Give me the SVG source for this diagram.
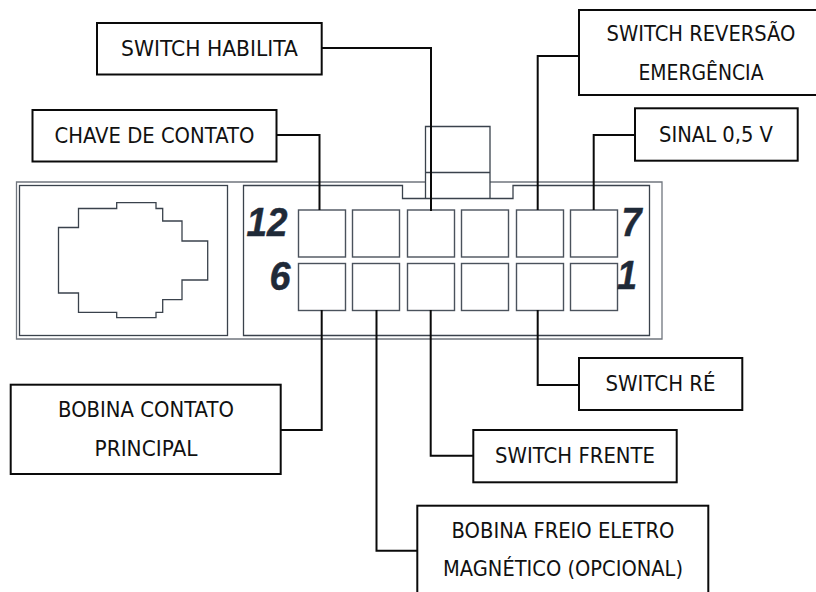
<svg xmlns="http://www.w3.org/2000/svg" width="816" height="592" viewBox="0 0 816 592">
<style>
.c{fill:#fff;stroke:#4a525c;stroke-width:1.4}
.t{fill:none;stroke:#3a424c;stroke-width:1.3}
.o{fill:none;stroke:#70767e;stroke-width:1.3}
.w{fill:none;stroke:#0a0a0a;stroke-width:2}
.b{fill:#fff;stroke:#0a0a0a;stroke-width:2}
.l{font-family:"DejaVu Sans",sans-serif;font-size:21px;fill:#111;text-anchor:middle}
.n{font-family:"Liberation Sans",Arial,sans-serif;font-size:40px;font-weight:bold;font-style:italic;fill:#1f2a38;stroke:#1f2a38;stroke-width:.5}
</style>
<rect width="816" height="592" fill="#fff"/>
<g id="connector-housing">
<path class="o" d="M425.500 182H16.500V339H662V182H490"/>
<rect class="t" x="19.500" y="185.500" width="208" height="150"/>
<path class="t" d="M243.500 185.500H402.500V198.500H513V185.500H649.500V335.500H243.500Z"/>
<path class="t" d="M425.500 198.500V126.500H490V198.500M425.500 172.500H490"/>
<path class="t" d="M58.500 227.500H78.500V208.500H116.700V202.700H156V208.500H162.700V221H182V241H207.700V280H182V299.700H162.700V312.300H156V317.700H116.700V312.300H78.500V293H58.500Z"/>
</g>
<g id="pins">
<rect class="c" x="298.500" y="210" width="47" height="47"/><rect class="c" x="352.500" y="210" width="47" height="47"/><rect class="c" x="407.500" y="210" width="47" height="47"/><rect class="c" x="461.500" y="210" width="47" height="47"/><rect class="c" x="516.500" y="210" width="47" height="47"/><rect class="c" x="570.500" y="210" width="47" height="47"/>
<rect class="c" x="298.500" y="263.500" width="47" height="47"/><rect class="c" x="352.500" y="263.500" width="47" height="47"/><rect class="c" x="407.500" y="263.500" width="47" height="47"/><rect class="c" x="461.500" y="263.500" width="47" height="47"/><rect class="c" x="516.500" y="263.500" width="47" height="47"/><rect class="c" x="570.500" y="263.500" width="47" height="47"/>
<text class="n" x="246.500" y="236" textLength="41" lengthAdjust="spacingAndGlyphs">12</text>
<text class="n" x="269.500" y="290" textLength="21" lengthAdjust="spacingAndGlyphs">6</text>
<text class="n" x="621.500" y="236" textLength="20" lengthAdjust="spacingAndGlyphs">7</text>
<text class="n" x="617" y="289" textLength="20" lengthAdjust="spacingAndGlyphs">1</text>
</g>
<g id="connectors">
<path class="w" d="M322 48H431V211"/>
<path class="w" d="M277 135H319.500V210"/>
<path class="w" d="M579 56H537.700V210"/>
<path class="w" d="M635 135H593.700V210"/>
<path class="w" d="M281 430H321.700V310"/>
<path class="w" d="M417 550.700H376.500V310"/>
<path class="w" d="M473 455.700H430.700V310"/>
<path class="w" d="M579 385H537.700V310"/>
</g>
<g id="switch-habilita"><rect class="b" x="97" y="23" width="224.700" height="51.500"/><text class="l" x="209.500" y="56" textLength="177" lengthAdjust="spacingAndGlyphs">SWITCH HABILITA</text></g>
<g id="chave-contato"><rect class="b" x="32.500" y="110" width="244" height="51.500"/><text class="l" x="154.500" y="143" textLength="200" lengthAdjust="spacingAndGlyphs">CHAVE DE CONTATO</text></g>
<g id="switch-reversao"><rect class="b" x="579" y="10" width="240" height="85"/><text class="l" x="701" y="41" textLength="189" lengthAdjust="spacingAndGlyphs">SWITCH REVERSÃO</text><text class="l" x="701" y="80" textLength="125" lengthAdjust="spacingAndGlyphs">EMERGÊNCIA</text></g>
<g id="sinal"><rect class="b" x="635" y="108.300" width="162.700" height="52.400"/><text class="l" x="716" y="142" textLength="114" lengthAdjust="spacingAndGlyphs">SINAL 0,5 V</text></g>
<g id="bobina-contato"><rect class="b" x="10.700" y="384.700" width="270" height="89.300"/><text class="l" x="146" y="417" textLength="176" lengthAdjust="spacingAndGlyphs">BOBINA CONTATO</text><text class="l" x="146" y="456" textLength="103" lengthAdjust="spacingAndGlyphs">PRINCIPAL</text></g>
<g id="switch-re"><rect class="b" x="579" y="358" width="163.300" height="52"/><text class="l" x="660.500" y="391" textLength="110" lengthAdjust="spacingAndGlyphs">SWITCH RÉ</text></g>
<g id="switch-frente"><rect class="b" x="473.300" y="430" width="203.400" height="52.300"/><text class="l" x="575" y="463" textLength="160" lengthAdjust="spacingAndGlyphs">SWITCH FRENTE</text></g>
<g id="bobina-freio"><rect class="b" x="417.300" y="505.700" width="291" height="100"/><text class="l" x="563" y="538" textLength="223" lengthAdjust="spacingAndGlyphs">BOBINA FREIO ELETRO</text><text class="l" x="563" y="576" textLength="240" lengthAdjust="spacingAndGlyphs">MAGNÉTICO (OPCIONAL)</text></g>
</svg>
